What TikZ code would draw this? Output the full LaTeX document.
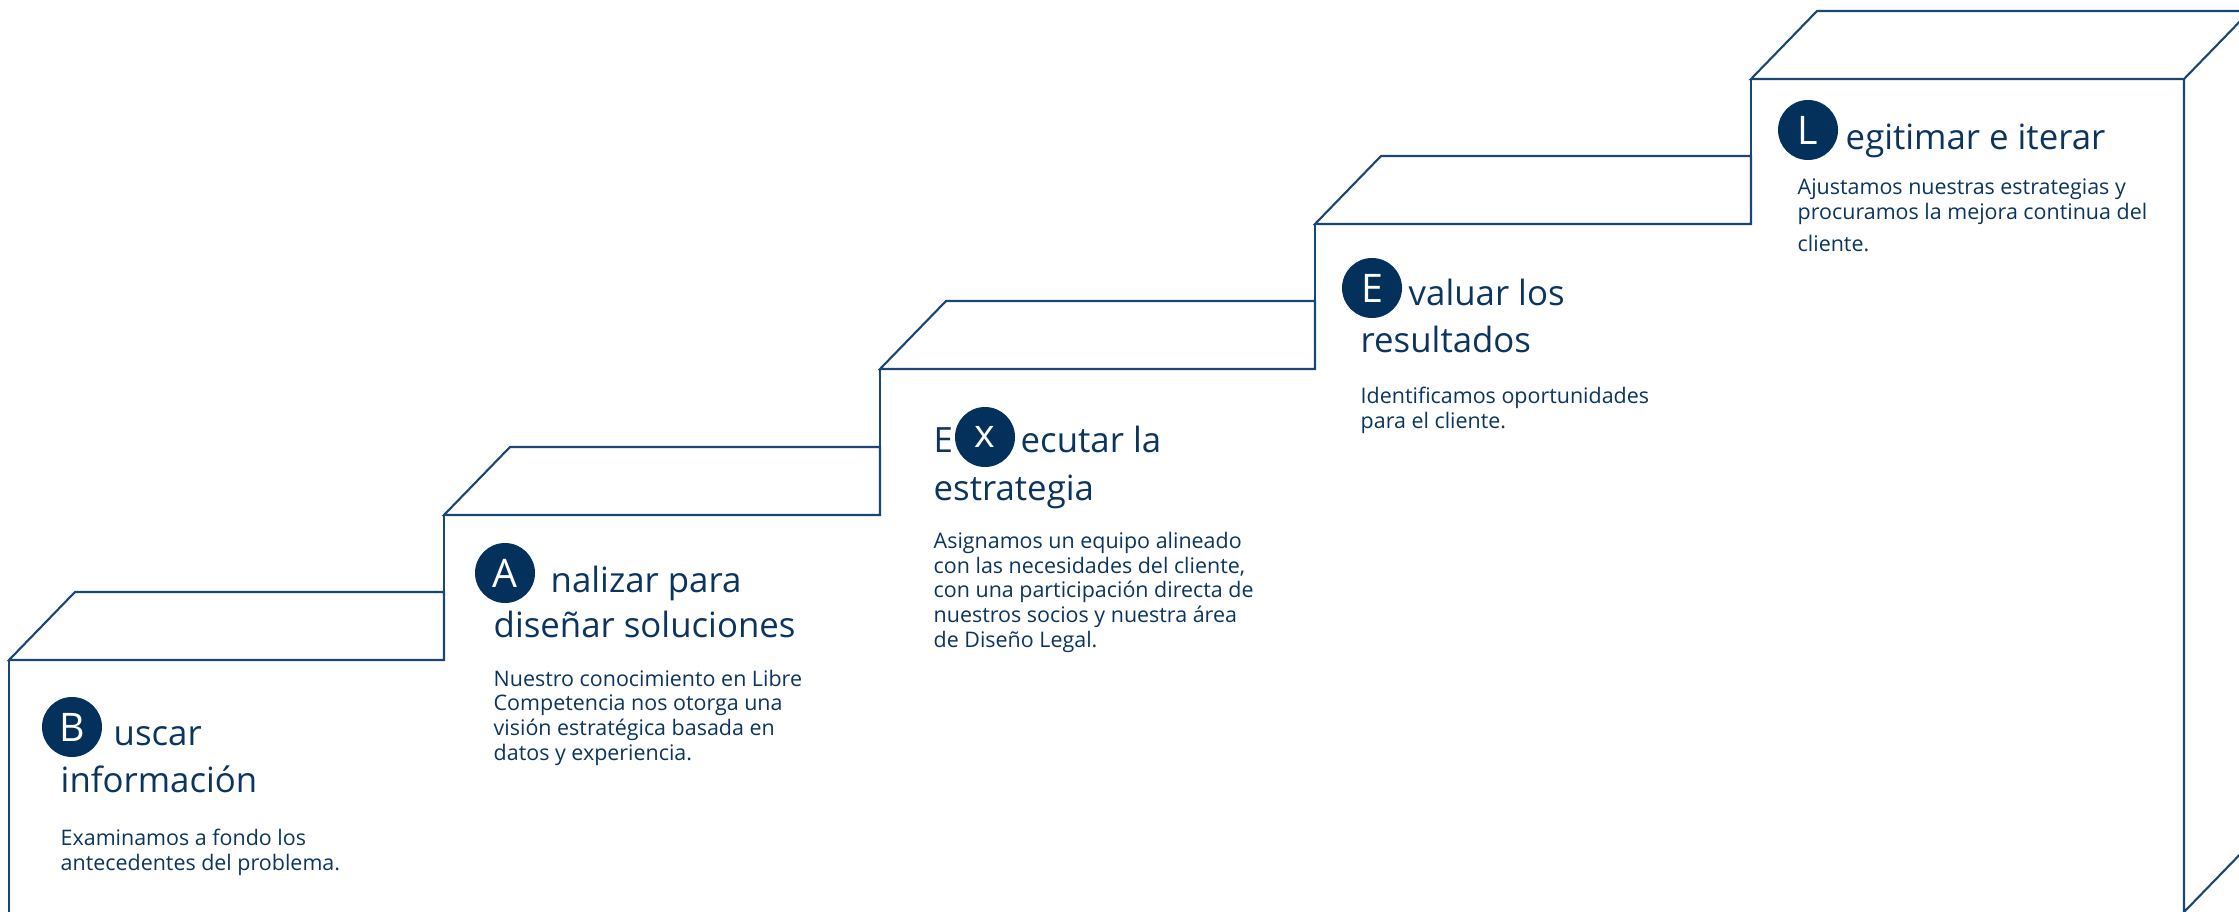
\documentclass[tikz,border=0pt]{standalone}
\usepackage{fontspec}
\setmainfont{Open Sans}
\usetikzlibrary{calc}
\definecolor{stairline}{HTML}{1A4675}
\definecolor{stairtext}{HTML}{0B355E}
\definecolor{stairdot}{HTML}{03315C}
\def\stairtop(#1,#2)(#3,#4){\draw[stair] (#1,#2) -- ++(66,-68) -- (#3,#2-68) -- (#3,#2) -- cycle; \draw[stair] (#1,#2) -- (#1,#4);}

\begin{document}
\begin{tikzpicture}[x=0.1mm, y=-0.1mm,
	stair/.style={line width=0.6pt, draw=stairline},
	letter/.style={circle, fill=stairdot, text=white, minimum size=6mm, inner sep=0pt, font=\fontsize{11.2}{12}\selectfont},
	title/.style={anchor=base west, inner sep=0pt, text=stairtext, font=\fontsize{9.9}{12}\selectfont},
	body/.style={anchor=base west, inner sep=0pt, text=stairtext, align=left, font=\fontsize{6.1}{7}\selectfont}]
			%%%%% START %%%%%
			
			\useasboundingbox (0,0) rectangle (2239,912);
			\clip (0,0) rectangle (2239,912);
			
			\stairtop(9,660)(444,912)
			\stairtop(444,515)(880,660)
			\stairtop(880,369)(1315,515)
			\stairtop(1315,224)(1751,369)
			
			\draw[stair] (1751,79) -- (1817,11) -- (2250,11) -- (2184,79) -- cycle;
			\draw[stair] (1751,79) -- (1751,224);
			\draw[stair] (2184,79) -- (2184,912) -- (2250,844);
			
			% body nodes sit on the baseline of their last line
			\node[letter] (b) at (72,727) {B};
			\node[title] (buscar) at (113,745) {uscar};
			\node[title] (informacion) at (60,792) {información};
			\node[body] (examinamos) at (60,870) {\fontsize{6.1}{8}\selectfont Examinamos a fondo los\\antecedentes del problema.};
			
			\node[letter] (a) at (505,573) {A};
			\node[title] (analizar) at (550,592) {nalizar para};
			\node[title] (disenar) at (493,637) {diseñar soluciones};
			\node[body] (conocimiento) at (493,760) {Nuestro conocimiento en Libre\\Competencia nos otorga una\\visión estratégica basada en\\datos y experiencia.};
			
			\node[title] (e) at (933,453) {E};
			\node[letter] (x) at (985,437) {x};
			\node[title] (ejecutar) at (1020,453) {ecutar la};
			\node[title] (estrategia) at (933,500) {estrategia};
			\node[body] (equipo) at (933,647) {Asignamos un equipo alineado\\con las necesidades del cliente,\\con una participación directa de\\nuestros socios y nuestra área\\de Diseño Legal.};
			
			\node[letter] (ev) at (1372,288) {E};
			\node[title] (evaluar) at (1408,306) {valuar los};
			\node[title] (resultados) at (1360,353) {resultados};
			\node[body] (oportunidades) at (1360,428) {Identificamos oportunidades\\para el cliente.};
			
			\node[letter] (l) at (1808,130) {L};
			\node[title] (legitimar) at (1845,150) {egitimar e iterar};
			\node[body] (ajustamos) at (1797,252) {\fontsize{6.1}{6}\selectfont Ajustamos nuestras estrategias y\\procuramos la mejora continua del\\[2.3pt]cliente.};
			
			%%%%% END %%%%%
\end{tikzpicture}
\end{document}
